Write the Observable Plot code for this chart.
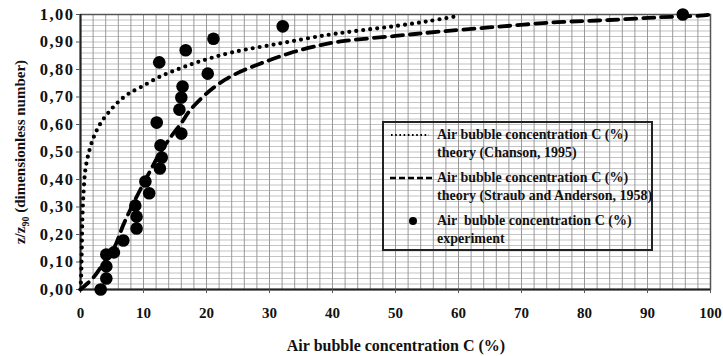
<!DOCTYPE html>
<html>
<head>
<meta charset="utf-8">
<script src="https://cdn.jsdelivr.net/npm/d3@7"></script>
<script src="https://cdn.jsdelivr.net/npm/@observablehq/plot@0.6"></script>
<style>
  html, body { margin: 0; padding: 0; background: #fff; }
  #chart svg { display: block; }
</style>
</head>
<body>
<div id="chart"></div>
<script>
// Chanson (1995) theory curve: concentration C (%), z/z90
const chansonC = [0, 0.1, 0.2, 0.3, 0.5, 0.8, 1.4, 2.2, 3.2, 4.5, 5.9, 7.5, 9.5, 12.7, 15.9, 19, 24, 31.7, 39, 44.4, 50, 55, 59.5];
const chansonZ = [0, 0.05, 0.15, 0.26, 0.36, 0.44, 0.505, 0.56, 0.605, 0.645, 0.68, 0.71, 0.735, 0.775, 0.805, 0.83, 0.862, 0.895, 0.925, 0.942, 0.958, 0.975, 0.993];

// Straub and Anderson (1958) theory curve
const straubC = [0, 1, 2.1, 3.5, 5.2, 6.8, 7.9, 9.2, 11.4, 12.7, 14.5, 16, 17.5, 21, 24.3, 28.6, 33.3, 38, 41.3, 50, 57.1, 66, 75.7, 84, 92, 98.4, 100];
const straubZ = [0, 0.02, 0.045, 0.09, 0.145, 0.235, 0.29, 0.35, 0.446, 0.5, 0.56, 0.605, 0.655, 0.732, 0.78, 0.822, 0.86, 0.888, 0.902, 0.922, 0.938, 0.955, 0.972, 0.98, 0.99, 0.996, 1.0];

// Experiment
const expC = [3.2, 4.1, 4.1, 4.1, 5.3, 6.8, 8.9, 8.9, 8.7, 10.9, 10.3, 12.6, 12.9, 12.7, 16.0, 12.1, 15.7, 16.0, 16.2, 20.2, 12.5, 16.7, 21.1, 32.1, 95.6];
const expZ = [0.0, 0.04, 0.084, 0.127, 0.135, 0.178, 0.222, 0.265, 0.305, 0.35, 0.393, 0.44, 0.48, 0.524, 0.567, 0.607, 0.654, 0.698, 0.738, 0.785, 0.826, 0.87, 0.912, 0.957, 1.0];

const xTicks = [0, 10, 20, 30, 40, 50, 60, 70, 80, 90, 100];
const yTicks = [0, 0.1, 0.2, 0.3, 0.4, 0.5, 0.6, 0.7, 0.8, 0.9, 1.0];

const chanson = chansonC.map((c, i) => ({c, z: chansonZ[i]}));
const straub = straubC.map((c, i) => ({c, z: straubZ[i]}));
const expt = expC.map((c, i) => ({c, z: expZ[i]}));

const FONT = '"Liberation Serif", "Times New Roman", serif';
const yFmt = d => d3.format(".2f")(d).replace(".", ",");

const plot = Plot.plot({
  width: 723,
  height: 356,
  marginLeft: 80,
  marginRight: 13,
  marginTop: 14,
  marginBottom: 67,
  style: { fontFamily: FONT, fontSize: "15px", fontWeight: "bold", color: "#111", background: "#fff" },
  x: { domain: [0, 100], ticks: xTicks, label: null },
  y: { domain: [0, 1], ticks: yTicks, label: null, tickFormat: yFmt },
  marks: [
    Plot.gridY(d3.range(0, 51).map(i => i * 0.02), { stroke: "#c4c4c4", strokeOpacity: 1, strokeWidth: 1.2 }),
    Plot.gridX(d3.range(0, 51).map(i => i * 2), { stroke: "#999", strokeOpacity: 1, strokeWidth: 1 }),
    Plot.frame({ stroke: "#555", strokeWidth: 1.5 }),
    Plot.ruleX([0], { stroke: "#222", strokeWidth: 2 }),
    Plot.ruleY([0], { stroke: "#222", strokeWidth: 2 }),
    Plot.axisX({ ticks: xTicks, tickSize: 4, tickPadding: 14, stroke: "#555", fontSize: 15, fontWeight: "bold" }),
    Plot.axisY({ ticks: yTicks, tickSize: 4, tickPadding: 2, stroke: "#555", fontSize: 16.5, fontWeight: "bold", tickFormat: yFmt }),
    Plot.line(chanson, { x: "c", y: "z", stroke: "#000", strokeWidth: 4.2, strokeDasharray: "0 7", strokeLinecap: "round", curve: "catmull-rom" }),
    Plot.line(straub, { x: "c", y: "z", stroke: "#000", strokeWidth: 3.8, strokeDasharray: "11 7", curve: "catmull-rom" }),
    Plot.dot(expt, { x: "c", y: "z", r: 6.3, fill: "#000", stroke: "none" })
  ]
});

document.getElementById("chart").appendChild(plot);

const svg = d3.select(plot);

// widen y tick labels like the original rendering
svg.selectAll("text").filter(function () { return /^\d,\d\d$/.test(this.textContent); })
  .style("letter-spacing", "1.5px");

// Axis titles
svg.append("text")
  .attr("x", 396).attr("y", 351)
  .attr("text-anchor", "middle")
  .style("font-family", FONT).style("font-weight", "bold").style("font-size", "16px")
  .attr("fill", "#111")
  .text("Air bubble concentration C (%)");

const yl = svg.append("text")
  .attr("transform", "translate(25,152) rotate(-90)")
  .attr("text-anchor", "middle")
  .style("font-family", FONT).style("font-weight", "bold").style("font-size", "15px")
  .attr("fill", "#111");
yl.append("tspan").text("z/z");
yl.append("tspan").attr("dy", 4).style("font-size", "10px").text("90");
yl.append("tspan").attr("dy", -4).text(" (dimensionless number)");

// Legend
const lg = svg.append("g")
  .attr("text-anchor", "start")
  .style("font-family", FONT).style("font-weight", "bold").style("font-size", "14px")
  .attr("fill", "#111");
lg.append("rect").attr("x", 383).attr("y", 122).attr("width", 269).attr("height", 128)
  .attr("fill", "none").attr("stroke", "#222").attr("stroke-width", 2);
lg.append("line").attr("x1", 391).attr("x2", 429).attr("y1", 135).attr("y2", 135)
  .attr("stroke", "#000").attr("stroke-width", 2).attr("stroke-dasharray", "1.6 2.6");
lg.append("text").attr("x", 437).attr("y", 139).text("Air bubble concentration C (%)");
lg.append("text").attr("x", 437).attr("y", 157).text("theory (Chanson, 1995)");
lg.append("line").attr("x1", 390).attr("x2", 433).attr("y1", 178).attr("y2", 178)
  .attr("stroke", "#000").attr("stroke-width", 2.6).attr("stroke-dasharray", "6 3");
lg.append("text").attr("x", 437).attr("y", 182).text("Air bubble concentration C (%)");
lg.append("text").attr("x", 437).attr("y", 200).text("theory (Straub and Anderson, 1958)");
lg.append("circle").attr("cx", 413).attr("cy", 221).attr("r", 4).attr("fill", "#000");
lg.append("text").attr("x", 437).attr("y", 225).style("white-space", "pre").text("Air  bubble concentration C (%)");
lg.append("text").attr("x", 437).attr("y", 243).text("experiment");
</script>
</body>
</html>
